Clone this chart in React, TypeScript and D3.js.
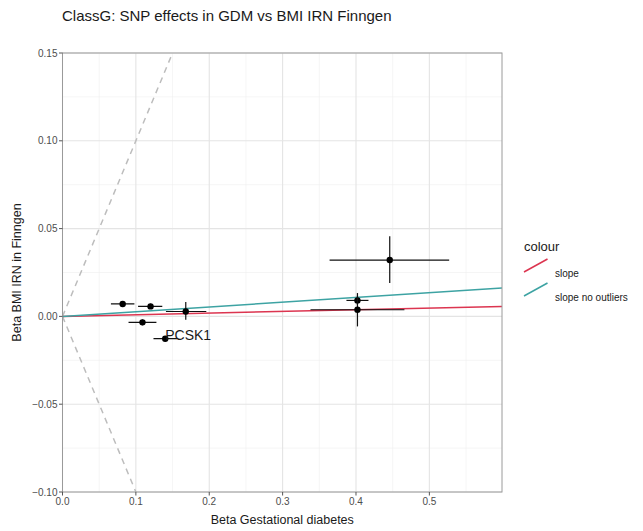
import React from "react";
import * as d3 from "d3";

const snpX = [0.082, 0.120, 0.109, 0.140, 0.168, 0.446, 0.402, 0.402];
const snpY = [0.0071, 0.0057, -0.0034, -0.0127, 0.0028, 0.0321, 0.0091, 0.0038];
const xLow = [0.066, 0.103, 0.090, 0.124, 0.141, 0.364, 0.387, 0.338];
const xHigh = [0.098, 0.136, 0.128, 0.156, 0.196, 0.527, 0.417, 0.466];
const yLow = [0.0056, 0.0042, -0.0050, -0.0141, -0.0019, 0.0190, 0.0066, -0.0057];
const yHigh = [0.0086, 0.0072, -0.0018, -0.0113, 0.0082, 0.0456, 0.0118, 0.0133];
const snpLabels = ["", "", "", "PCSK1", "", "", "", ""];

const slopeNames = ["slope", "slope no outliers"];
const slopeValues = [0.0095, 0.027];
const slopeColors = ["#dc3550", "#3da3a3"];

const refSlopes = [1, -1];

const xTicks = [0, 0.1, 0.2, 0.3, 0.4, 0.5];
const xMinor = [0.05, 0.15, 0.25, 0.35, 0.45, 0.55];
const yTicks = [-0.1, -0.05, 0, 0.05, 0.1, 0.15];
const yMinor = [-0.075, -0.025, 0.025, 0.075, 0.125];

const W = 643, H = 531;
const L = 62.5, R = 502, T = 53, B = 492;

export default function App() {
  const x = d3.scaleLinear().domain([0, 0.599]).range([L, R]);
  const y = d3.scaleLinear().domain([-0.1, 0.15]).range([B, T]);
  const font = "Arial, 'Liberation Sans', Helvetica, sans-serif";
  const xmax = 0.599;
  return (
    <svg width={W} height={H} style={{ position: "absolute", left: 0, top: 0, background: "#fff" }} fontFamily={font}>
      <defs>
        <clipPath id="panel"><rect x={L} y={T} width={R - L} height={B - T} /></clipPath>
      </defs>
      <text x={62} y={21} fontSize={15} fill="#1a1a1a">ClassG: SNP effects in GDM vs BMI IRN Finngen</text>
      {xMinor.map((v) => <line key={"xm" + v} x1={x(v)} x2={x(v)} y1={T} y2={B} stroke="#efefef" strokeWidth={0.6} />)}
      {yMinor.map((v) => <line key={"ym" + v} y1={y(v)} y2={y(v)} x1={L} x2={R} stroke="#efefef" strokeWidth={0.6} />)}
      {xTicks.map((v) => <line key={"xg" + v} x1={x(v)} x2={x(v)} y1={T} y2={B} stroke="#e4e4e4" strokeWidth={1.1} />)}
      {yTicks.map((v) => <line key={"yg" + v} y1={y(v)} y2={y(v)} x1={L} x2={R} stroke="#e4e4e4" strokeWidth={1.1} />)}
      <g clipPath="url(#panel)">
        {refSlopes.map((s) => (
          <line key={"ref" + s} x1={x(0)} y1={y(0)} x2={x(xmax)} y2={y(s * xmax)} stroke="#bdbdbd" strokeWidth={1.5} strokeDasharray="6,5" />
        ))}
        {slopeValues.map((s, i) => (
          <line key={"sl" + i} x1={x(0)} y1={y(0)} x2={x(xmax)} y2={y(s * xmax)} stroke={slopeColors[i]} strokeWidth={1.5} />
        ))}
        {snpX.map((v, i) => (
          <g key={"p" + i}>
            <line x1={x(xLow[i])} x2={x(xHigh[i])} y1={y(snpY[i])} y2={y(snpY[i])} stroke="#111" strokeWidth={1.2} />
            <line x1={x(v)} x2={x(v)} y1={y(yLow[i])} y2={y(yHigh[i])} stroke="#111" strokeWidth={1.2} />
            <circle cx={x(v)} cy={y(snpY[i])} r={3.2} fill="#000" />
          </g>
        ))}
        {snpX.map((v, i) => snpLabels[i] ? (
          <text key={"lb" + i} x={x(v)} y={y(snpY[i]) + 1} fontSize={14} fill="#1a1a1a">{snpLabels[i]}</text>
        ) : null)}
      </g>
      <rect x={L} y={T} width={R - L} height={B - T} fill="none" stroke="#9a9a9a" strokeWidth={1} />
      {xTicks.map((v) => (
        <g key={"xt" + v}>
          <line x1={x(v)} x2={x(v)} y1={B} y2={B + 3.5} stroke="#555" />
          <text x={x(v)} y={B + 13} fontSize={10} fill="#4d4d4d" textAnchor="middle">{d3.format(".1f")(v)}</text>
        </g>
      ))}
      {yTicks.map((v) => (
        <g key={"yt" + v}>
          <line x1={L - 3.5} x2={L} y1={y(v)} y2={y(v)} stroke="#555" />
          <text x={L - 5} y={y(v) + 3.5} fontSize={10} fill="#4d4d4d" textAnchor="end">{d3.format(".2f")(v)}</text>
        </g>
      ))}
      <text x={(L + R) / 2} y={524} fontSize={12.5} fill="#1a1a1a" textAnchor="middle">Beta Gestational diabetes</text>
      <text transform={`translate(21,${(T + B) / 2}) rotate(-90)`} fontSize={12.5} fill="#1a1a1a" textAnchor="middle">Beta BMI IRN in Finngen</text>
      <text x={524} y={251} fontSize={13} fill="#1a1a1a">colour</text>
      {slopeNames.map((n, i) => (
        <g key={"lg" + i}>
          <line x1={524} y1={272 + i * 24} x2={547.5} y2={259 + i * 24} stroke={slopeColors[i]} strokeWidth={1.5} />
          <text x={555} y={277 + i * 23.5} fontSize={10} fill="#1a1a1a">{n}</text>
        </g>
      ))}
    </svg>
  );
}
